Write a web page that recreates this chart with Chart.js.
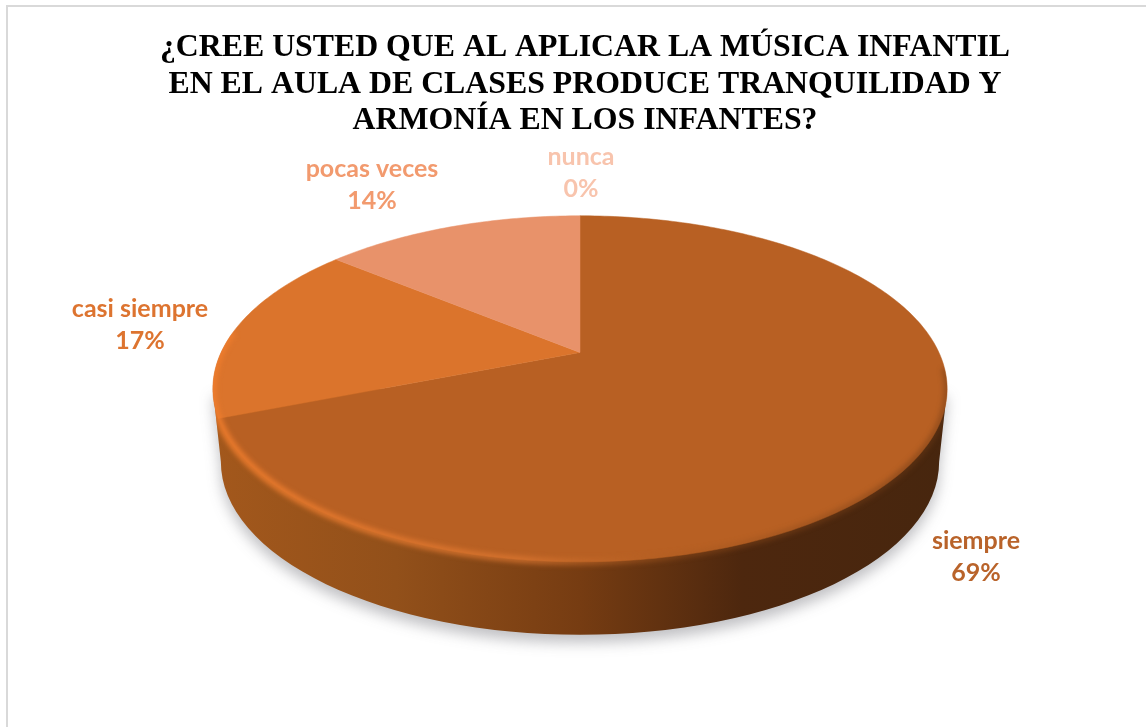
<!DOCTYPE html>
<html>
<head>
<meta charset="utf-8">
<title>Música infantil</title>
<script src="https://cdn.jsdelivr.net/npm/chart.js@4/dist/chart.umd.js"></script>
<style>
    html, body { margin: 0; padding: 0; background: #fff; }
    #wrap { position: relative; width: 1146px; height: 727px; overflow: hidden; }
    #frame { position: absolute; left: 6px; top: 5px; width: 1146px; height: 730px; border: 2px solid #d9d9d9; box-sizing: border-box; }
    canvas { position: absolute; left: 0; top: 0; }
</style>
</head>
<body>
<div id="wrap">
    <div id="frame"></div>
    <canvas id="pie" width="1146" height="727"></canvas>
</div>
<script>
const titleLines = [
    '¿CREE USTED QUE AL APLICAR LA MÚSICA INFANTIL',
    'EN EL AULA DE CLASES PRODUCE TRANQUILIDAD Y',
    'ARMONÍA EN LOS INFANTES?'
];
const categories = ['siempre', 'casi siempre', 'pocas veces', 'nunca'];
const percents = [69, 17, 14, 0];
const sliceColors = ['#b86023', '#db742c', '#e8926a', '#f2b49a'];
const labelColors = ['#b9632a', '#dd7430', '#f29a6e', '#f8c4ad'];

// the tilted pie, relative to the radius chart.js gives the arc
const TILT = { ax: 1.697, by: 0.782, persp: 0.21, shiftX: -5, depth: 73, shrink: 8 };

function project(arc, angle) {
    const u = Math.cos(angle), v = Math.sin(angle);
    const w = 1 - TILT.persp * v;
    return {
        x: arc.x + TILT.shiftX + arc.outerRadius * TILT.ax * u / w,
        y: arc.y + arc.outerRadius * TILT.by * v / w
    };
}

function rimPath(ctx, arc, from, to, lineFirst) {
    const steps = Math.max(2, Math.ceil(Math.abs(to - from) * 60));
    for (let i = 0; i <= steps; i++) {
        const p = project(arc, from + (to - from) * i / steps);
        if (i === 0 && !lineFirst) ctx.moveTo(p.x, p.y);
        else ctx.lineTo(p.x, p.y);
    }
}

// side wall: the same ellipse pushed down and a bit narrower
function wallPath(ctx, arc) {
    const cy = arc.y + arc.outerRadius * TILT.by * TILT.persp / (1 - TILT.persp * TILT.persp);
    const rx = arc.outerRadius * TILT.ax / Math.sqrt(1 - TILT.persp * TILT.persp);
    const ry = arc.outerRadius * TILT.by / (1 - TILT.persp * TILT.persp);
    const cx = arc.x + TILT.shiftX;
    ctx.beginPath();
    ctx.moveTo(cx - rx, cy);
    ctx.ellipse(cx, cy + TILT.depth, rx - TILT.shrink, ry, 0, Math.PI, 0, true);
    ctx.lineTo(cx + rx, cy);
    ctx.closePath();
}

const tiltedPie = {
    id: 'tiltedPie',
    beforeDatasetDraw(chart) {
        const ctx = chart.ctx;
        const arcs = chart.getDatasetMeta(0).data;
        const first = arcs[0];

        const wall = ctx.createLinearGradient(212, 0, 948, 0);
        wall.addColorStop(0, '#a3581c');
        wall.addColorStop(0.25, '#92501a');
        wall.addColorStop(0.5, '#763c12');
        wall.addColorStop(0.72, '#4d270e');
        wall.addColorStop(1, '#47260e');
        ctx.save();
        ctx.shadowColor = 'rgba(60,60,70,0.32)';
        ctx.shadowBlur = 14;
        ctx.shadowOffsetY = 8;
        wallPath(ctx, first);
        ctx.fillStyle = wall;
        ctx.fill();
        ctx.restore();

        arcs.forEach((arc, i) => {
            if (arc.circumference === 0) return;
            ctx.beginPath();
            ctx.moveTo(arc.x + TILT.shiftX, arc.y);
            rimPath(ctx, arc, arc.startAngle, arc.endAngle, true);
            ctx.closePath();
            ctx.fillStyle = sliceColors[i];
            ctx.strokeStyle = sliceColors[i];
            ctx.lineWidth = 0.5;
            ctx.fill();
            ctx.stroke();
        });

        // soft bevel on the front edge, fades out to the right
        const bevel = ctx.createLinearGradient(212, 0, 900, 0);
        bevel.addColorStop(0, 'rgba(240,125,45,0.9)');
        bevel.addColorStop(0.45, 'rgba(222,120,50,0.7)');
        bevel.addColorStop(0.68, 'rgba(170,90,32,0.35)');
        bevel.addColorStop(1, 'rgba(110,58,22,0.45)');
        ctx.save();
        // keep the blur inside the body of the pie
        wallPath(ctx, first);
        rimPath(ctx, first, Math.PI * 2, 0, false);
        ctx.closePath();
        ctx.clip();
        ctx.filter = 'blur(2.5px)';
        ctx.beginPath();
        rimPath(ctx, first, Math.PI * 0.03, Math.PI * 1.04, false);
        ctx.strokeStyle = bevel;
        ctx.lineWidth = 7;
        ctx.stroke();
        ctx.restore();

        return false;
    },
    afterDraw(chart, args, opts) {
        const ctx = chart.ctx;
        ctx.save();
        ctx.font = opts.font;
        ctx.textAlign = 'center';
        ctx.textBaseline = 'middle';
        categories.forEach((name, i) => {
            const spot = opts.spots[i];
            ctx.fillStyle = labelColors[i];
            ctx.fillText(name, spot[0], spot[1]);
            ctx.fillText(percents[i] + '%', spot[0], spot[1] + opts.lineGap);
        });
        ctx.restore();
    }
};

new Chart(document.getElementById('pie'), {
    type: 'pie',
    plugins: [tiltedPie],
    data: {
        labels: categories,
        datasets: [{ data: percents, backgroundColor: sliceColors, borderWidth: 0 }]
    },
    options: {
        responsive: false,
        animation: false,
        layout: { padding: { left: 24, right: 0, top: 24, bottom: 163 } },
        plugins: {
            legend: { display: false },
            tooltip: { enabled: false },
            title: {
                display: true,
                text: titleLines,
                color: '#000',
                font: { family: '"Liberation Serif"', size: 31.8, weight: 'bold', lineHeight: 1.14 },
                padding: { top: 6, bottom: 2.2 }
            },
            tiltedPie: {
                font: 'bold 25px Lato',
                lineGap: 32,
                spots: [[976, 541], [140, 309], [372, 169], [581, 157]]
            }
        }
    }
});
</script>
</body>
</html>
